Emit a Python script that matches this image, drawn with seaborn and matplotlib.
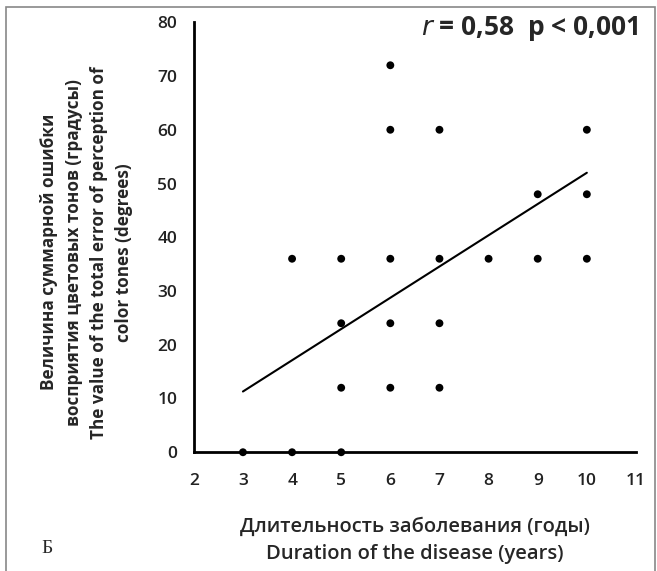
import numpy as np
import pandas as pd
import matplotlib
matplotlib.use("Agg")
import matplotlib.pyplot as plt
import seaborn as sns
from matplotlib.patches import Rectangle

# data
duration = [3, 4, 4, 5, 5, 5, 5, 6, 6, 6, 6, 6, 7, 7, 7, 7, 8, 9, 9, 10, 10, 10]
error = [0, 0, 36, 0, 12, 24, 36, 12, 24, 36, 60, 72, 12, 24, 36, 60, 36, 36, 48, 36, 48, 60]
trend_x = [3, 10]
trend_y = [11.3, 52.0]
x_ticks = list(range(2, 12))
y_ticks = list(range(0, 90, 10))

sns.set_theme(style="white")
plt.rcParams['font.family'] = ['Open Sans', 'DejaVu Sans']

df = pd.DataFrame({"duration": duration, "error": error})

fig = plt.figure(figsize=(6.57, 5.71), dpi=100)
ax = fig.add_axes([0.295, 0.208, 0.673, 0.753])

sns.scatterplot(data=df, x="duration", y="error", color="black", s=32,
                edgecolor="none", ax=ax, zorder=3, clip_on=False)
sns.lineplot(x=trend_x, y=trend_y, color="black", linewidth=1.5, ax=ax)

ax.set_xlim(2, 11)
ax.set_ylim(0, 80)
ax.set_xticks(x_ticks)
ax.set_yticks(y_ticks)
ax.tick_params(axis="x", length=0, pad=15, labelsize=12.5)
ax.tick_params(axis="y", length=0, pad=12, labelsize=12.5)
for lab in ax.get_xticklabels() + ax.get_yticklabels():
    lab.set_fontweight("semibold")
    lab.set_color("#222222")

sns.despine(ax=ax)
for side in ["left", "bottom"]:
    ax.spines[side].set_color("black")
    ax.spines[side].set_linewidth(2)

ax.set_xlabel("Длительность заболевания (годы)\nDuration of the disease (years)",
              fontsize=14.5, fontweight="semibold", labelpad=20, linespacing=1.45)
ax.set_ylabel("Величина суммарной ошибки\nвосприятия цветовых тонов (градусы)\n"
              "The value of the total error of perception of\ncolor tones (degrees)",
              fontsize=12.3, fontweight="bold", linespacing=1.5)
ax.yaxis.set_label_coords(-0.138, 0.465)

ax.text(1.005, 0.985, r"$\bf{\it{r}}$ = 0,58  p < 0,001", transform=ax.transAxes,
        ha="right", va="center", fontsize=19, fontweight="bold")

fig.text(0.072, 0.04, "Б", family=["Liberation Serif"], fontsize=14, ha="center", va="center")

fig.patches.append(Rectangle((0.009, -0.01), 0.988, 0.997, transform=fig.transFigure,
                             fill=False, edgecolor="#888888", linewidth=1.2))

fig.savefig("out.png", dpi=100)
